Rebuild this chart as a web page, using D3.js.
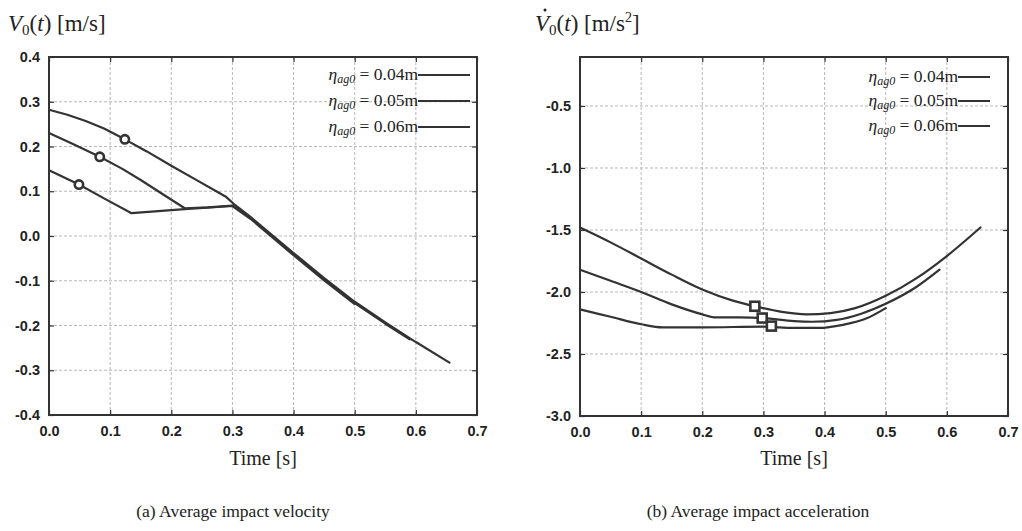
<!DOCTYPE html>
<html>
<head>
<meta charset="utf-8">
<script src="https://cdn.jsdelivr.net/npm/d3@7"></script>
<style>
  html, body { margin: 0; padding: 0; background: #fff; }
  svg { display: block; }
</style>
</head>
<body>
<svg id="fig" width="1022" height="531"></svg>
<script>
// Time axis and tick values shared by both panels
const timeTicks = [0.0, 0.1, 0.2, 0.3, 0.4, 0.5, 0.6, 0.7];
const velTicks = [-0.4, -0.3, -0.2, -0.1, 0.0, 0.1, 0.2, 0.3, 0.4];
const accTicks = [-3.0, -2.5, -2.0, -1.5, -1.0, -0.5];
const legendLabels = ["0.04m", "0.05m", "0.06m"];

// Average impact velocity V0(t) [m/s] for the three initial amplitudes
const vel004 = [[0,0.282],[0.03,0.271],[0.06,0.257],[0.09,0.240],[0.124,0.216],[0.16,0.189],[0.2,0.157],[0.24,0.126],[0.275,0.099],[0.29,0.087],[0.302,0.072],[0.33,0.042],[0.4,-0.038],[0.45,-0.094],[0.5,-0.147],[0.55,-0.193],[0.6,-0.237],[0.655,-0.283]];
const vel005 = [[0,0.230],[0.04,0.205],[0.083,0.177],[0.12,0.150],[0.15,0.125],[0.19,0.090],[0.222,0.062],[0.26,0.064],[0.3,0.068],[0.33,0.040],[0.4,-0.041],[0.45,-0.097],[0.5,-0.150],[0.55,-0.196],[0.59,-0.231]];
const vel006 = [[0,0.147],[0.049,0.115],[0.09,0.084],[0.135,0.051],[0.222,0.060],[0.3,0.067],[0.33,0.038],[0.4,-0.043],[0.45,-0.099],[0.5,-0.152]];
// impact instants (circles)
const velMarks = [[0.124,0.216],[0.083,0.177],[0.049,0.115]];

// Average impact acceleration dV0/dt [m/s^2]
const acc004 = [[0,-1.48],[0.05,-1.60],[0.1,-1.73],[0.15,-1.86],[0.2,-1.98],[0.25,-2.07],[0.29,-2.12],[0.33,-2.16],[0.37,-2.18],[0.41,-2.17],[0.45,-2.13],[0.5,-2.03],[0.55,-1.89],[0.6,-1.71],[0.655,-1.48]];
const acc005 = [[0,-1.82],[0.05,-1.91],[0.1,-2.0],[0.15,-2.1],[0.2,-2.18],[0.222,-2.205],[0.26,-2.205],[0.3,-2.21],[0.35,-2.235],[0.38,-2.24],[0.42,-2.225],[0.46,-2.175],[0.5,-2.095],[0.55,-1.96],[0.588,-1.82]];
const acc006 = [[0,-2.14],[0.05,-2.20],[0.1,-2.26],[0.135,-2.285],[0.2,-2.285],[0.3,-2.28],[0.35,-2.29],[0.39,-2.29],[0.43,-2.265],[0.47,-2.21],[0.5,-2.13]];
// impact instants (squares)
const accMarks = [[0.286,-2.115],[0.298,-2.21],[0.313,-2.275]];

const svg = d3.select("#fig");
const ink = "#333";
const serif = "'Liberation Serif', 'DejaVu Serif', serif";
const sans = "'Liberation Sans', Arial, sans-serif";

function panel(opts) {
  const x = d3.scaleLinear().domain([0, 0.7]).range([opts.left, opts.right]);
  const y = d3.scaleLinear().domain(opts.yDomain).range([opts.bottom, opts.top]);
  const g = svg.append("g");

  // dashed grid
  g.append("g").selectAll("line").data(timeTicks.slice(1, -1)).join("line")
    .attr("x1", d => x(d)).attr("x2", d => x(d))
    .attr("y1", opts.top).attr("y2", opts.bottom)
    .attr("stroke", "#b8b8b8").attr("stroke-width", 1).attr("stroke-dasharray", "3,2");
  g.append("g").selectAll("line").data(opts.yTicks.filter(d => d > opts.yDomain[0] + 1e-9 && d < opts.yDomain[1] - 1e-9)).join("line")
    .attr("x1", opts.left).attr("x2", opts.right)
    .attr("y1", d => y(d)).attr("y2", d => y(d))
    .attr("stroke", "#b8b8b8").attr("stroke-width", 1).attr("stroke-dasharray", "3,2");

  // axes with inward ticks
  const fmt = d => d3.format(".1f")(d).replace("\u2212", "-");
  const ax = d3.axisBottom(x).tickValues(timeTicks).tickFormat(fmt).tickSize(-5).tickPadding(11);
  const ay = d3.axisLeft(y).tickValues(opts.yTicks).tickFormat(fmt).tickSize(-5).tickPadding(9);
  const axT = d3.axisTop(x).tickValues(timeTicks).tickSize(-5).tickFormat("");
  const ayR = d3.axisRight(y).tickValues(opts.yTicks).tickSize(-5).tickFormat("");
  const style = sel => {
    sel.selectAll(".domain").remove();
    sel.selectAll("line").attr("stroke", ink).attr("stroke-width", 1.2);
    sel.selectAll("text").attr("fill", "#222").attr("font-family", sans)
      .attr("font-size", 14.5).attr("font-weight", "bold");
  };
  g.append("g").attr("transform", `translate(0,${opts.bottom})`).call(ax).call(style);
  g.append("g").attr("transform", `translate(${opts.left},0)`).call(ay).call(style);
  g.append("g").attr("transform", `translate(0,${opts.top})`).call(axT).call(style);
  g.append("g").attr("transform", `translate(${opts.right},0)`).call(ayR).call(style);

  // frame
  g.append("rect").attr("x", opts.left).attr("y", opts.top)
    .attr("width", opts.right - opts.left).attr("height", opts.bottom - opts.top)
    .attr("fill", "none").attr("stroke", ink).attr("stroke-width", 2);

  // curves
  const line = d3.line().x(d => x(d[0])).y(d => y(d[1])).curve(opts.curve);
  opts.series.forEach(s => {
    g.append("path").datum(s).attr("d", line)
      .attr("fill", "none").attr("stroke", ink).attr("stroke-width", 2.2)
      .attr("stroke-linejoin", "round").attr("stroke-linecap", "round");
  });

  // markers
  if (opts.markerShape === "circle") {
    g.append("g").selectAll("circle").data(opts.marks).join("circle")
      .attr("cx", d => x(d[0])).attr("cy", d => y(d[1])).attr("r", 4.2)
      .attr("fill", "#fff").attr("stroke", ink).attr("stroke-width", 2.6);
  } else {
    g.append("g").selectAll("rect").data(opts.marks).join("rect")
      .attr("x", d => x(d[0]) - 4.5).attr("y", d => y(d[1]) - 4.5)
      .attr("width", 9).attr("height", 9)
      .attr("fill", "#fff").attr("stroke", ink).attr("stroke-width", 2.6);
  }

  // legend
  opts.legendY.forEach((ly, i) => {
    const t = g.append("text").attr("x", opts.legendTextEnd).attr("y", ly + 5)
      .attr("text-anchor", "end").attr("font-family", serif).attr("font-size", 17.5).attr("fill", "#222");
    t.append("tspan").attr("font-style", "italic").text("η");
    t.append("tspan").attr("font-style", "italic").attr("font-size", 12).attr("dy", 3).text("ag0");
    t.append("tspan").attr("dy", -3).text(" = " + legendLabels[i]);
    g.append("line").attr("x1", opts.legendTextEnd).attr("x2", opts.legendLineEnd)
      .attr("y1", ly).attr("y2", ly).attr("stroke", ink).attr("stroke-width", 2);
  });

  // x title
  g.append("text").attr("x", (opts.left + opts.right) / 2).attr("y", 465)
    .attr("text-anchor", "middle").attr("font-family", serif).attr("font-size", 20).attr("fill", "#222")
    .text("Time [s]");

  // caption
  g.append("text").attr("x", opts.captionX).attr("y", 517)
    .attr("text-anchor", "middle").attr("font-family", serif).attr("font-size", 17.5).attr("fill", "#222")
    .text(opts.caption);

  return { x, y };
}

panel({
  left: 49, right: 477, top: 57, bottom: 415,
  yDomain: [-0.4, 0.4], yTicks: velTicks,
  series: [vel004, vel005, vel006], marks: velMarks, markerShape: "circle",
  curve: d3.curveLinear,
  legendY: [75, 101, 127], legendTextEnd: 418, legendLineEnd: 470,
  caption: "(a) Average impact velocity", captionX: 233
});

panel({
  left: 580, right: 1008, top: 57, bottom: 416,
  yDomain: [-3.0, -0.105], yTicks: accTicks,
  series: [acc004, acc005, acc006], marks: accMarks, markerShape: "square",
  curve: d3.curveMonotoneX,
  legendY: [77, 101, 126], legendTextEnd: 958, legendLineEnd: 990,
  caption: "(b) Average impact acceleration", captionX: 758
});

// y-axis titles
function yTitle(xPos, dotted, units, sup) {
  const t = svg.append("text").attr("x", xPos).attr("y", 31)
    .attr("font-family", serif).attr("font-size", 23).attr("fill", "#222");
  t.append("tspan").attr("font-style", "italic").text("V");
  t.append("tspan").attr("font-size", 15).attr("dy", 4).text("0");
  t.append("tspan").attr("dy", -4).text("(");
  t.append("tspan").attr("font-style", "italic").text("t");
  t.append("tspan").text(") [" + units);
  if (sup) {
    t.append("tspan").attr("font-size", 14).attr("dy", -9).text(sup);
    t.append("tspan").attr("dy", 9).text("]");
  } else {
    t.append("tspan").text("]");
  }
  if (dotted) {
    svg.append("circle").attr("cx", xPos + 10).attr("cy", 10).attr("r", 1.5).attr("fill", "#222");
  }
}
yTitle(8, false, "m/s", null);
yTitle(535, true, "m/s", "2");
</script>
</body>
</html>
